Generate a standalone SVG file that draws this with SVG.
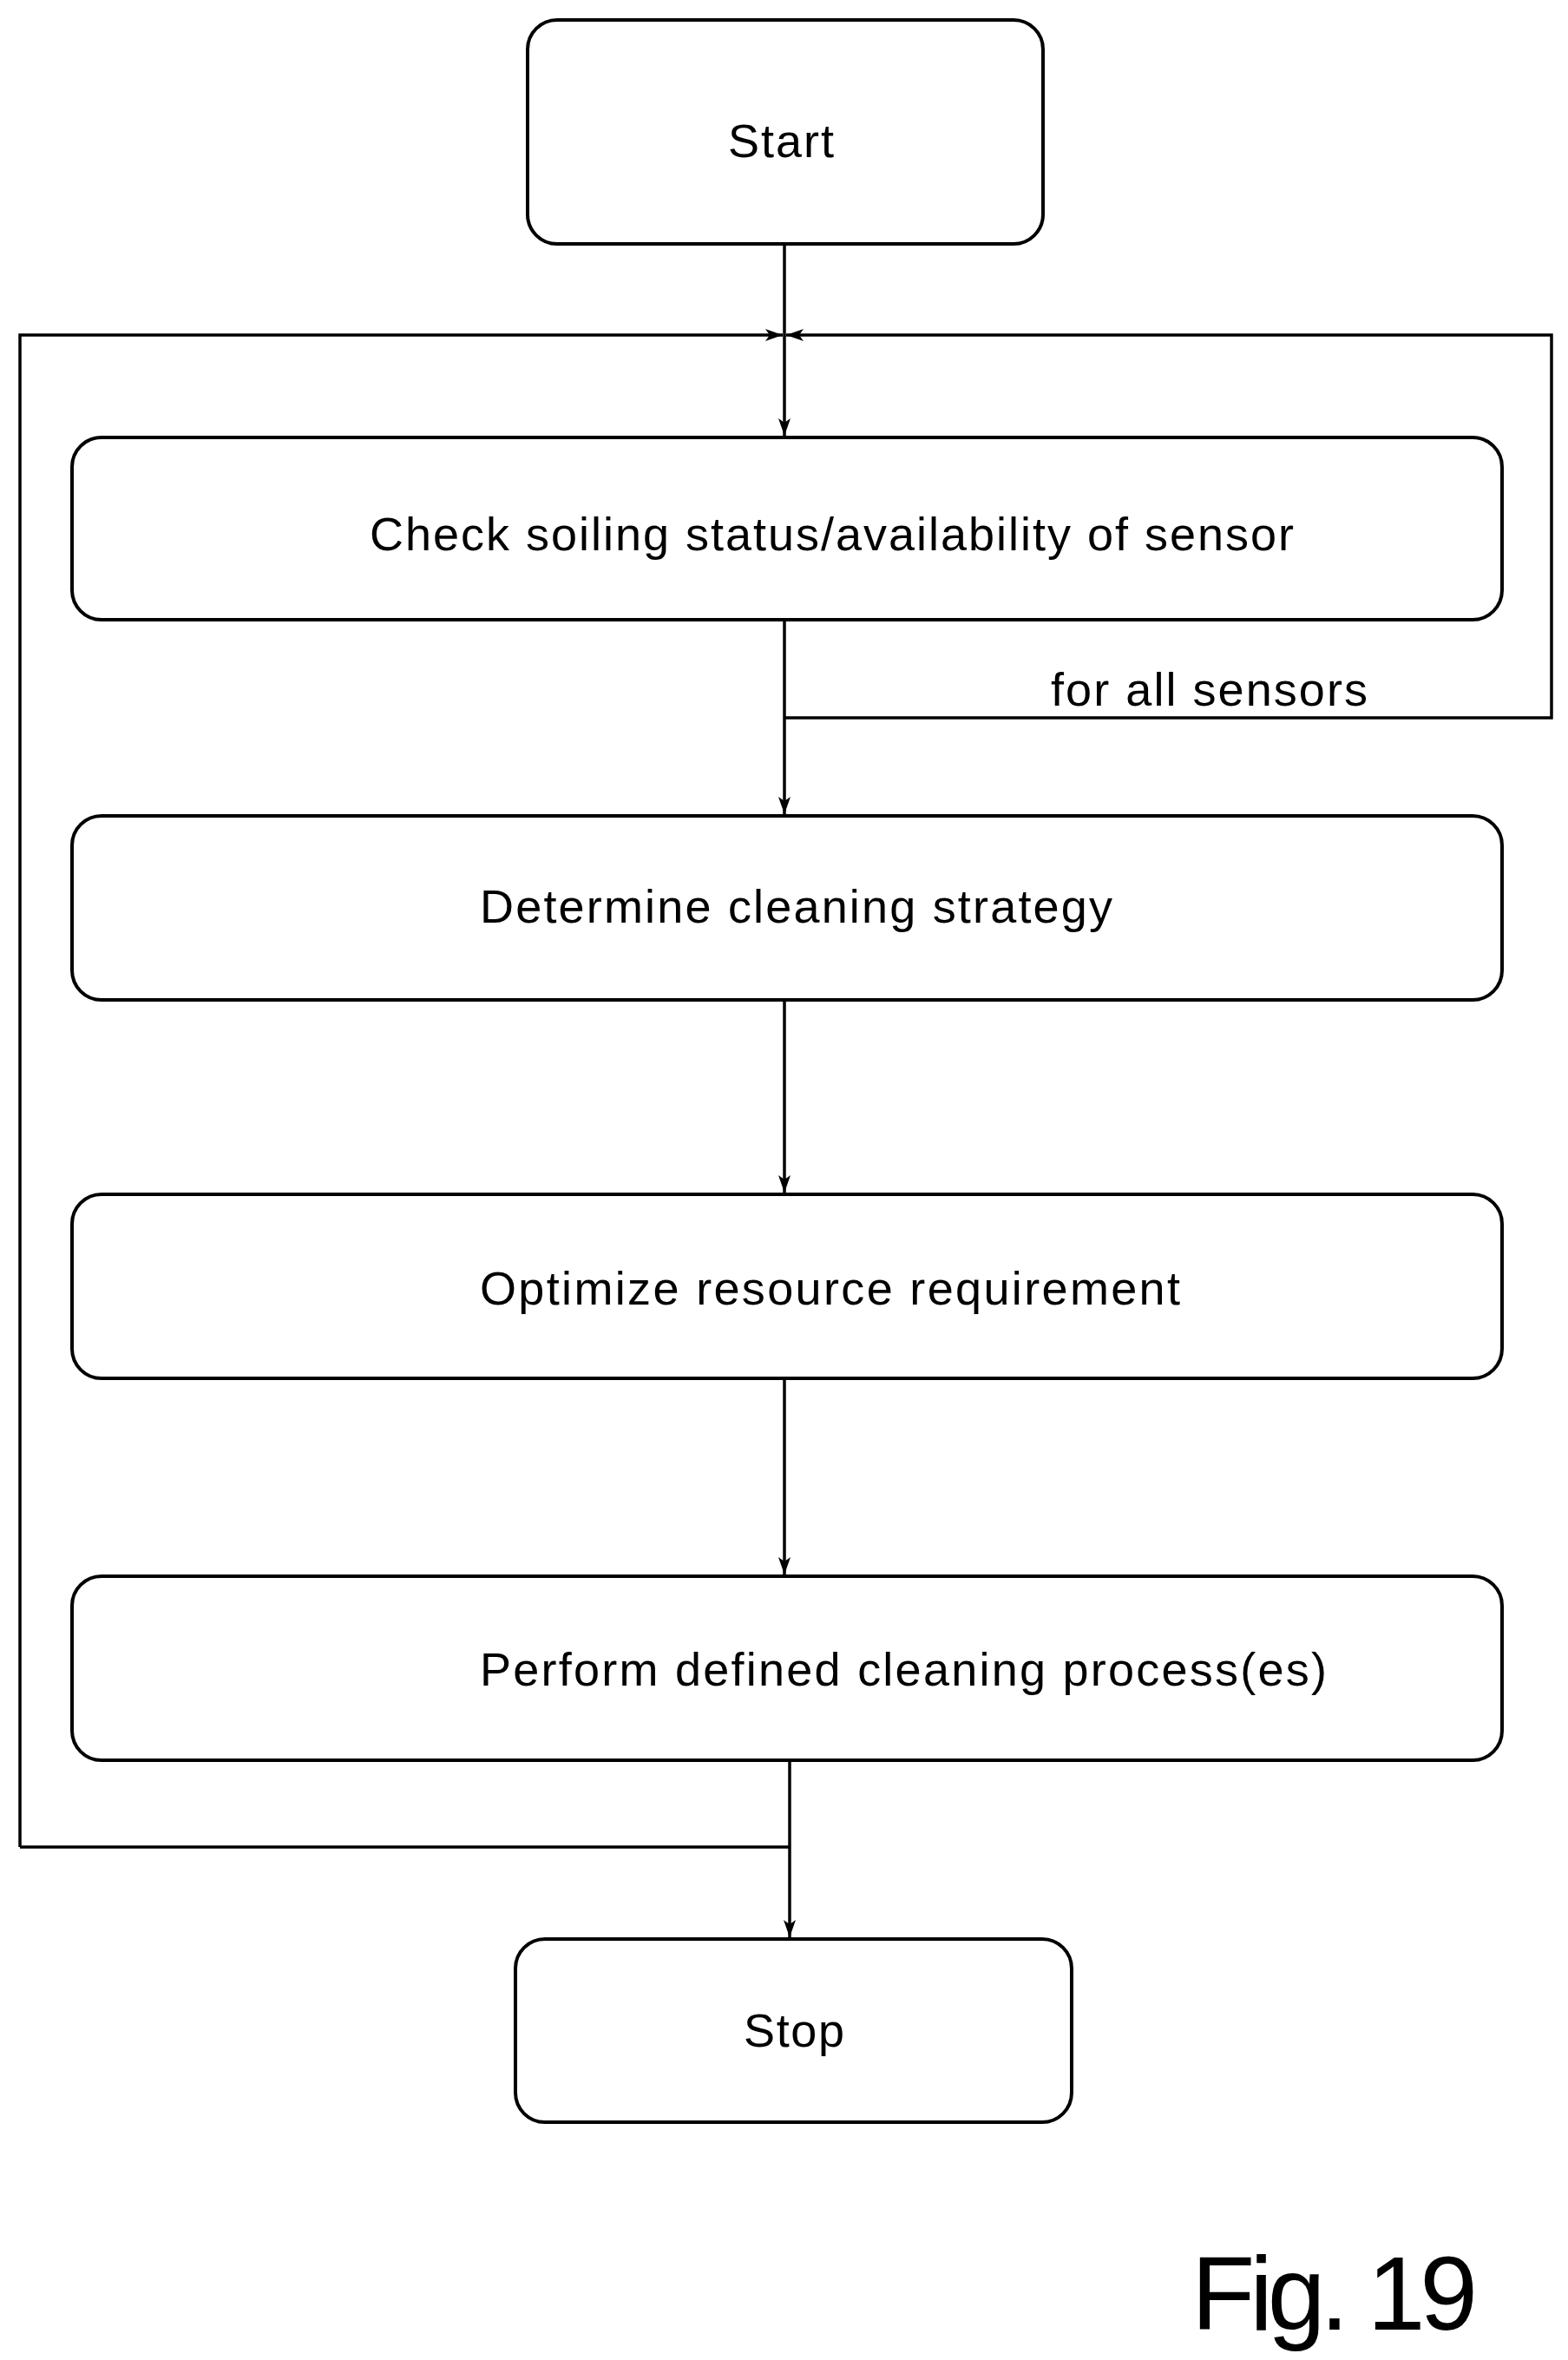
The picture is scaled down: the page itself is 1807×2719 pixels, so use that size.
<svg xmlns="http://www.w3.org/2000/svg" width="1807" height="2719" viewBox="0 0 1807 2719">
<style>
.box{fill:#fff;stroke:#000;stroke-width:4}
.t{font-family:"Liberation Sans",Arial,sans-serif;font-size:54px;fill:#000}
.c{fill:none;stroke:#000;stroke-width:3.5}
</style>
<defs>
<marker id="a" viewBox="0 0 20 20" refX="20" refY="10" markerWidth="20" markerHeight="20" markerUnits="userSpaceOnUse" orient="auto">
<path d="M0,3 L20,10 L0,17 L5,10 Z" fill="#000"/>
</marker>
</defs>
<rect width="1807" height="2719" fill="#fff"/>
<g id="connectors">
<path class="c" d="M904,281 V502" marker-end="url(#a)"/>
<path class="c" d="M23,2128 H910 M23,2128 V386 H902" marker-end="url(#a)"/>
<path class="c" d="M904,827 H1788 V386 H906" marker-end="url(#a)"/>
<path class="c" d="M904,714 V938" marker-end="url(#a)"/>
<path class="c" d="M904,1152 V1374" marker-end="url(#a)"/>
<path class="c" d="M904,1588 V1814" marker-end="url(#a)"/>
<path class="c" d="M910,2028 V2232" marker-end="url(#a)"/>
<text class="t" x="1211" y="813" textLength="365">for all sensors</text>
</g>
<g id="start"><rect class="box" x="608" y="23" width="594" height="258" rx="34"/><text class="t" x="839" y="181" textLength="122">Start</text></g>
<g id="check"><rect class="box" x="83" y="504" width="1648" height="210" rx="34"/><text class="t" x="426" y="634" textLength="1065">Check soiling status/availability of sensor</text></g>
<g id="determine"><rect class="box" x="83" y="940" width="1648" height="212" rx="34"/><text class="t" x="553" y="1063" textLength="729">Determine cleaning strategy</text></g>
<g id="optimize"><rect class="box" x="83" y="1376" width="1648" height="212" rx="34"/><text class="t" x="553" y="1503" textLength="807">Optimize resource requirement</text></g>
<g id="perform"><rect class="box" x="83" y="1816" width="1648" height="212" rx="34"/><text class="t" x="553" y="1942" textLength="976">Perform defined cleaning process(es)</text></g>
<g id="stop"><rect class="box" x="594" y="2234" width="641" height="211" rx="34"/><text class="t" x="857" y="2358" textLength="116">Stop</text></g>
<text class="t" x="1373" y="2684" style="font-size:120px" textLength="330">Fig. 19</text>
</svg>
